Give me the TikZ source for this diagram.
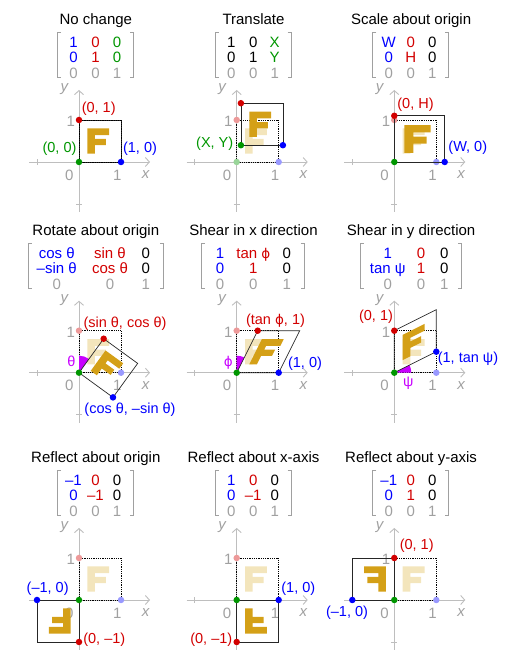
\documentclass[tikz,border=0pt]{standalone}
\usepackage{fontspec}
\setmainfont{Liberation Sans}
\newfontfamily\dvsans{DejaVu Sans}
\usetikzlibrary{arrows.meta}
\definecolor{cb}{RGB}{0,0,255}
\definecolor{cr}{RGB}{210,0,0}
\definecolor{cg}{RGB}{0,150,0}
\definecolor{cgray}{RGB}{160,160,160}
\definecolor{caxis}{RGB}{190,190,190}
\definecolor{cF}{RGB}{212,160,23}
\definecolor{cFl}{RGB}{243,229,188}
\definecolor{cmag}{RGB}{200,0,255}
\newcommand\phisym{{\dvsans\fontsize{13.5}{16}\selectfont ϕ}}
\tikzset{
 axisline/.style={draw=caxis, line width=0.9pt, -{Straight Barb[length=4pt,width=9pt]}},
 tickline/.style={draw=caxis, line width=0.9pt},
 lab/.style={inner sep=0pt, font=\fontsize{14.5}{17}\selectfont},
 ticklab/.style={inner sep=0pt, text=cgray, font=\fontsize{15}{18}\selectfont},
 axlab/.style={inner sep=0pt, text=cgray, font=\fontsize{15}{18}\selectfont\itshape},
 ttl/.style={inner sep=0pt, anchor=base, font=\fontsize{15}{18}\selectfont},
 ent/.style={inner sep=0pt, anchor=base, font=\fontsize{15}{18}\selectfont},
 brk/.style={draw=cgray, line width=1pt},
 dotn/.style={circle, inner sep=0pt, minimum size=6.5pt},
 orig/.style={draw=black, densely dotted, line width=0.8pt},
 shp/.style={draw=black!85, line width=0.7pt},
 wedgefill/.style={fill=cmag},
}
\newcommand\panelaxes[1]{%
 \draw[axisline] (-50,0) -- (71,0);
 \draw[axisline] (0,-50) -- (0,72);
 \draw[tickline] (-42,-3) -- (-42,3) (42,-3) -- (42,3) (-3,-42) -- (3,-42) (-3,42) -- (3,42);
 \node[ticklab] (#1zero) at (-9.7,-13) {0};
 \node[ticklab] (#1xone) at (38.3,-13) {1};
 \node[ticklab] (#1yone) at (-8.3,40.3) {1};
 \node[axlab] (#1xl) at (66.7,-13) {x};
 \node[axlab] (#1yl) at (-14.7,72.7) {y};
}
\newcommand\mrow[8]{%
 \node[ent] (#1a) at (#3,#2) {#6};
 \node[ent] (#1b) at (#4,#2) {#7};
 \node[ent] (#1c) at (#5,#2) {#8};
}
\newcommand\matbrackets[2]{%
 \draw[brk] (#1+3.5,129.5) -- (#1,129.5) -- (#1,84) -- (#1+3.5,84);
 \draw[brk] (#2-3.5,129.5) -- (#2,129.5) -- (#2,84) -- (#2-3.5,84);
}
\newcommand\Fshape[1]{\fill[#1] (0.2,0.2) -- (0.38,0.2) -- (0.38,0.4) -- (0.64,0.4) -- (0.64,0.55) -- (0.38,0.55) -- (0.38,0.64) -- (0.72,0.64) -- (0.72,0.8) -- (0.2,0.8) -- cycle;}
\newcommand\usq[1]{\draw[#1] (0,0) -- (1,0) -- (1,1) -- (0,1) -- cycle;}
\begin{document}
\begin{tikzpicture}[x=1pt,y=1pt]
\useasboundingbox (0,0) rectangle (512,662);
% ---------- Panel 1: No change
\begin{scope}[shift={(79,500)}]
 \panelaxes{a}
 \node[ttl] (ta) at (16.8,137.5) {No change};
 \mrow{ar1}{114.5}{-5.5}{16.5}{38}{\color{cb}1}{\color{cr}0}{\color{cg}0}
 \mrow{ar2}{99}{-5.5}{16.5}{38}{\color{cb}0}{\color{cr}1}{\color{cg}0}
 \mrow{ar3}{83.5}{-5.5}{16.5}{38}{\color{cgray}0}{\color{cgray}0}{\color{cgray}1}
 \matbrackets{-21.5}{54.5}
 \begin{scope}[scale=42]
  \Fshape{cF}
  \usq{shp}
  \usq{orig}
  \node[dotn, fill=cg] (ag) at (0,0) {};
  \node[dotn, fill=cb] (ab) at (1,0) {};
  \node[dotn, fill=cr] (ar) at (0,1) {};
 \end{scope}
 \node[lab, text=cr] (al1) at (19.7,53) {(0, 1)};
 \node[lab, text=cg] (al2) at (-19.5,13) {(0, 0)};
 \node[lab, text=cb] (al3) at (61,13) {(1, 0)};
\end{scope}
% ---------- Panel 2: Translate
\begin{scope}[shift={(236.7,500)}]
 \panelaxes{b}
 \node[ttl] (tb) at (16.8,137.5) {Translate};
 \mrow{bm1}{114.5}{-5.5}{16.5}{38}{1}{0}{\color{cg}X}
 \mrow{bm2}{99}{-5.5}{16.5}{38}{0}{1}{\color{cg}Y}
 \mrow{bm3}{83.5}{-5.5}{16.5}{38}{\color{cgray}0}{\color{cgray}0}{\color{cgray}1}
 \matbrackets{-21.5}{54.5}
 \begin{scope}[scale=42]
  \Fshape{cFl}
  \usq{orig}
  \node[dotn, fill=cg!40] (bg0) at (0,0) {};
  \node[dotn, fill=cb!40] (bb0) at (1,0) {};
  \node[dotn, fill=cr!40] (br0) at (0,1) {};
 \end{scope}
 \begin{scope}[shift={(4.2,16.8)},scale=42]
  \Fshape{cF}
  \usq{shp}
  \node[dotn, fill=cg] (bg) at (0,0) {};
  \node[dotn, fill=cb] (bb) at (1,0) {};
  \node[dotn, fill=cr] (bred) at (0,1) {};
 \end{scope}
 \node[lab, text=cg] (bl1) at (-22,18) {(X, Y)};
\end{scope}
% ---------- Panel 3: Scale
\begin{scope}[shift={(394.3,500)}]
 \panelaxes{c}
 \node[ttl] (tc) at (16.8,137.5) {Scale about origin};
 \mrow{cm1}{114.5}{-5.5}{16.5}{38}{\color{cb}W}{\color{cr}0}{0}
 \mrow{cm2}{99}{-5.5}{16.5}{38}{\color{cb}0}{\color{cr}H}{0}
 \mrow{cm3}{83.5}{-5.5}{16.5}{38}{\color{cgray}0}{\color{cgray}0}{\color{cgray}1}
 \matbrackets{-21.5}{54.5}
 \begin{scope}[scale=42]
  \Fshape{cFl}
  \usq{orig}
  \node[dotn, fill=cb!40] (cb0) at (1,0) {};
  \node[dotn, fill=cr!40] (cr0) at (0,1) {};
 \end{scope}
 \begin{scope}[scale=42, xscale=1.2, yscale=1.1]
  \Fshape{cF}
  \usq{shp}
  \node[dotn, fill=cg] (cgp) at (0,0) {};
  \node[dotn, fill=cb] (cbp) at (1,0) {};
  \node[dotn, fill=cr] (crp) at (0,1) {};
 \end{scope}
 \node[lab, text=cr] (cl1) at (21.2,57) {(0, H)};
 \node[lab, text=cb] (cl2) at (73.5,14) {(W, 0)};
\end{scope}
% ---------- Panel 4: Rotate
\begin{scope}[shift={(79,289.3)}]
 \panelaxes{d}
 \node[ttl] (td) at (16.8,137.5) {Rotate about origin};
 \mrow{dm1}{114.5}{-22.3}{31}{66.7}{\color{cb}cos θ}{\color{cr}sin θ}{0}
 \mrow{dm2}{99}{-22.3}{31}{66.7}{\color{cb}–sin θ}{\color{cr}cos θ}{0}
 \mrow{dm3}{83.5}{-22.3}{31}{66.7}{\color{cgray}0}{\color{cgray}0}{\color{cgray}1}
 \matbrackets{-50.7}{84.3}
 \begin{scope}[scale=42]
  \Fshape{cFl}
  \usq{orig}
  \node[dotn, fill=cb!40] (db0) at (1,0) {};
  \node[dotn, fill=cr!40] (dr0) at (0,1) {};
 \end{scope}
 \fill[wedgefill] (0,0) -- (90:17) arc[start angle=90, end angle=54, radius=17] -- cycle;
 \begin{scope}[scale=42, rotate=-36]
  \Fshape{cF}
  \usq{shp}
  \node[dotn, fill=cg] (dgp) at (0,0) {};
  \node[dotn, fill=cb] (dbp) at (1,0) {};
  \node[dotn, fill=cr] (drp) at (0,1) {};
 \end{scope}
 \node[lab, text=cr] (dl1) at (46,48.7) {(sin θ, cos θ)};
 \node[lab, text=cmag] (dl2) at (-7.7,11.7) {θ};
 \node[lab, text=cb] (dl3) at (51,-36.6) {(cos θ, –sin θ)};
\end{scope}
% ---------- Panel 5: Shear x
\begin{scope}[shift={(236.7,289.3)}]
 \panelaxes{e}
 \node[ttl] (te) at (16.8,137.5) {Shear in x direction};
 \mrow{em1}{114.5}{-16.7}{16.6}{50}{\color{cb}1}{\color{cr}tan \phisym}{0}
 \mrow{em2}{99}{-16.7}{16.6}{50}{\color{cb}0}{\color{cr}1}{0}
 \mrow{em3}{83.5}{-16.7}{16.6}{50}{\color{cgray}0}{\color{cgray}0}{\color{cgray}1}
 \matbrackets{-35}{67.3}
 \begin{scope}[scale=42]
  \Fshape{cFl}
  \usq{orig}
  \node[dotn, fill=cr!40] (er0) at (0,1) {};
 \end{scope}
 \fill[wedgefill] (0,0) -- (90:17) arc[start angle=90, end angle=63.43, radius=17] -- cycle;
 \begin{scope}[scale=42, cm={1,0,0.5,1,(0,0)}]
  \Fshape{cF}
  \usq{shp}
  \node[dotn, fill=cg] (egp) at (0,0) {};
  \node[dotn, fill=cb] (ebp) at (1,0) {};
  \node[dotn, fill=cr] (erp) at (0,1) {};
 \end{scope}
 \node[lab, text=cr] (el1) at (38.8,51.7) {(tan \phisym, 1)};
 \node[lab, text=cmag] (el2) at (-8.4,10) {\phisym};
 \node[lab, text=cb] (el3) at (68.3,9.2) {(1, 0)};
\end{scope}
% ---------- Panel 6: Shear y
\begin{scope}[shift={(394.3,289.3)}]
 \panelaxes{f}
 \node[ttl] (tf) at (16.8,137.5) {Shear in y direction};
 \mrow{fm1}{114.5}{-6.6}{26.7}{50}{\color{cb}1}{\color{cr}0}{0}
 \mrow{fm2}{99}{-6.6}{26.7}{50}{\color{cb}tan ψ}{\color{cr}1}{0}
 \mrow{fm3}{83.5}{-6.6}{26.7}{50}{\color{cgray}0}{\color{cgray}0}{\color{cgray}1}
 \matbrackets{-34.3}{67.4}
 \begin{scope}[scale=42]
  \Fshape{cFl}
  \usq{orig}
  \node[dotn, fill=cb!40] (fb0) at (1,0) {};
 \end{scope}
 \fill[wedgefill] (0,0) -- (0:17) arc[start angle=0, end angle=26.57, radius=17] -- cycle;
 \begin{scope}[scale=42, cm={1,0.5,0,1,(0,0)}]
  \Fshape{cF}
  \usq{shp}
  \node[dotn, fill=cg] (fgp) at (0,0) {};
  \node[dotn, fill=cb] (fbp) at (1,0) {};
  \node[dotn, fill=cr] (frp) at (0,1) {};
 \end{scope}
 \node[lab, text=cr] (fl1) at (-18.3,56) {(0, 1)};
 \node[lab, text=cb] (fl2) at (73.7,14.4) {(1, tan ψ)};
 \node[lab, text=cmag] (fl3) at (14,-10.6) {ψ};
\end{scope}
% ---------- Panel 7: Reflect origin
\begin{scope}[shift={(79,62)}]
 \panelaxes{g}
 \node[ttl] (tg) at (16.8,137.5) {Reflect about origin};
 \mrow{gm1}{114.5}{-5.5}{16.5}{38}{\color{cb}–1}{\color{cr}0}{0}
 \mrow{gm2}{99}{-5.5}{16.5}{38}{\color{cb}0}{\color{cr}–1}{0}
 \mrow{gm3}{83.5}{-5.5}{16.5}{38}{\color{cgray}0}{\color{cgray}0}{\color{cgray}1}
 \matbrackets{-21.5}{54.5}
 \begin{scope}[scale=42]
  \Fshape{cFl}
  \usq{orig}
  \node[dotn, fill=cb!40] (gb0) at (1,0) {};
  \node[dotn, fill=cr!40] (gr0) at (0,1) {};
 \end{scope}
 \begin{scope}[scale=42, xscale=-1, yscale=-1]
  \Fshape{cF}
  \usq{shp}
  \node[dotn, fill=cg] (ggp) at (0,0) {};
  \node[dotn, fill=cb] (gbp) at (1,0) {};
  \node[dotn, fill=cr] (grp) at (0,1) {};
 \end{scope}
 \node[lab, text=cb] (gl1) at (-31.3,11) {(–1, 0)};
 \node[lab, text=cr] (gl2) at (25.3,-40) {(0, –1)};
\end{scope}
% ---------- Panel 8: Reflect x-axis
\begin{scope}[shift={(236.7,62)}]
 \panelaxes{h}
 \node[ttl] (th) at (16.8,137.5) {Reflect about x-axis};
 \mrow{hm1}{114.5}{-5.5}{16.5}{38}{\color{cb}1}{\color{cr}0}{0}
 \mrow{hm2}{99}{-5.5}{16.5}{38}{\color{cb}0}{\color{cr}–1}{0}
 \mrow{hm3}{83.5}{-5.5}{16.5}{38}{\color{cgray}0}{\color{cgray}0}{\color{cgray}1}
 \matbrackets{-21.5}{54.5}
 \begin{scope}[scale=42]
  \Fshape{cFl}
  \usq{orig}
  \node[dotn, fill=cr!40] (hr0) at (0,1) {};
 \end{scope}
 \begin{scope}[scale=42, yscale=-1]
  \Fshape{cF}
  \usq{shp}
  \node[dotn, fill=cg] (hgp) at (0,0) {};
  \node[dotn, fill=cb] (hbp) at (1,0) {};
  \node[dotn, fill=cr] (hrp) at (0,1) {};
 \end{scope}
 \node[lab, text=cb] (hl1) at (61.6,11) {(1, 0)};
 \node[lab, text=cr] (hl2) at (-25.4,-40) {(0, –1)};
\end{scope}
% ---------- Panel 9: Reflect y-axis
\begin{scope}[shift={(394.3,62)}]
 \panelaxes{k}
 \node[ttl] (tk) at (16.8,137.5) {Reflect about y-axis};
 \mrow{km1}{114.5}{-5.5}{16.5}{38}{\color{cb}–1}{\color{cr}0}{0}
 \mrow{km2}{99}{-5.5}{16.5}{38}{\color{cb}0}{\color{cr}1}{0}
 \mrow{km3}{83.5}{-5.5}{16.5}{38}{\color{cgray}0}{\color{cgray}0}{\color{cgray}1}
 \matbrackets{-21.5}{54.5}
 \begin{scope}[scale=42]
  \Fshape{cFl}
  \usq{orig}
  \node[dotn, fill=cb!40] (kb0) at (1,0) {};
 \end{scope}
 \begin{scope}[scale=42, xscale=-1]
  \Fshape{cF}
  \usq{shp}
  \node[dotn, fill=cg] (kgp) at (0,0) {};
  \node[dotn, fill=cb] (kbp) at (1,0) {};
  \node[dotn, fill=cr] (krp) at (0,1) {};
 \end{scope}
 \node[lab, text=cr] (kl1) at (22.4,54.2) {(0, 1)};
 \node[lab, text=cb] (kl2) at (-47.3,-12.7) {(–1, 0)};
\end{scope}
\end{tikzpicture}
\end{document}
